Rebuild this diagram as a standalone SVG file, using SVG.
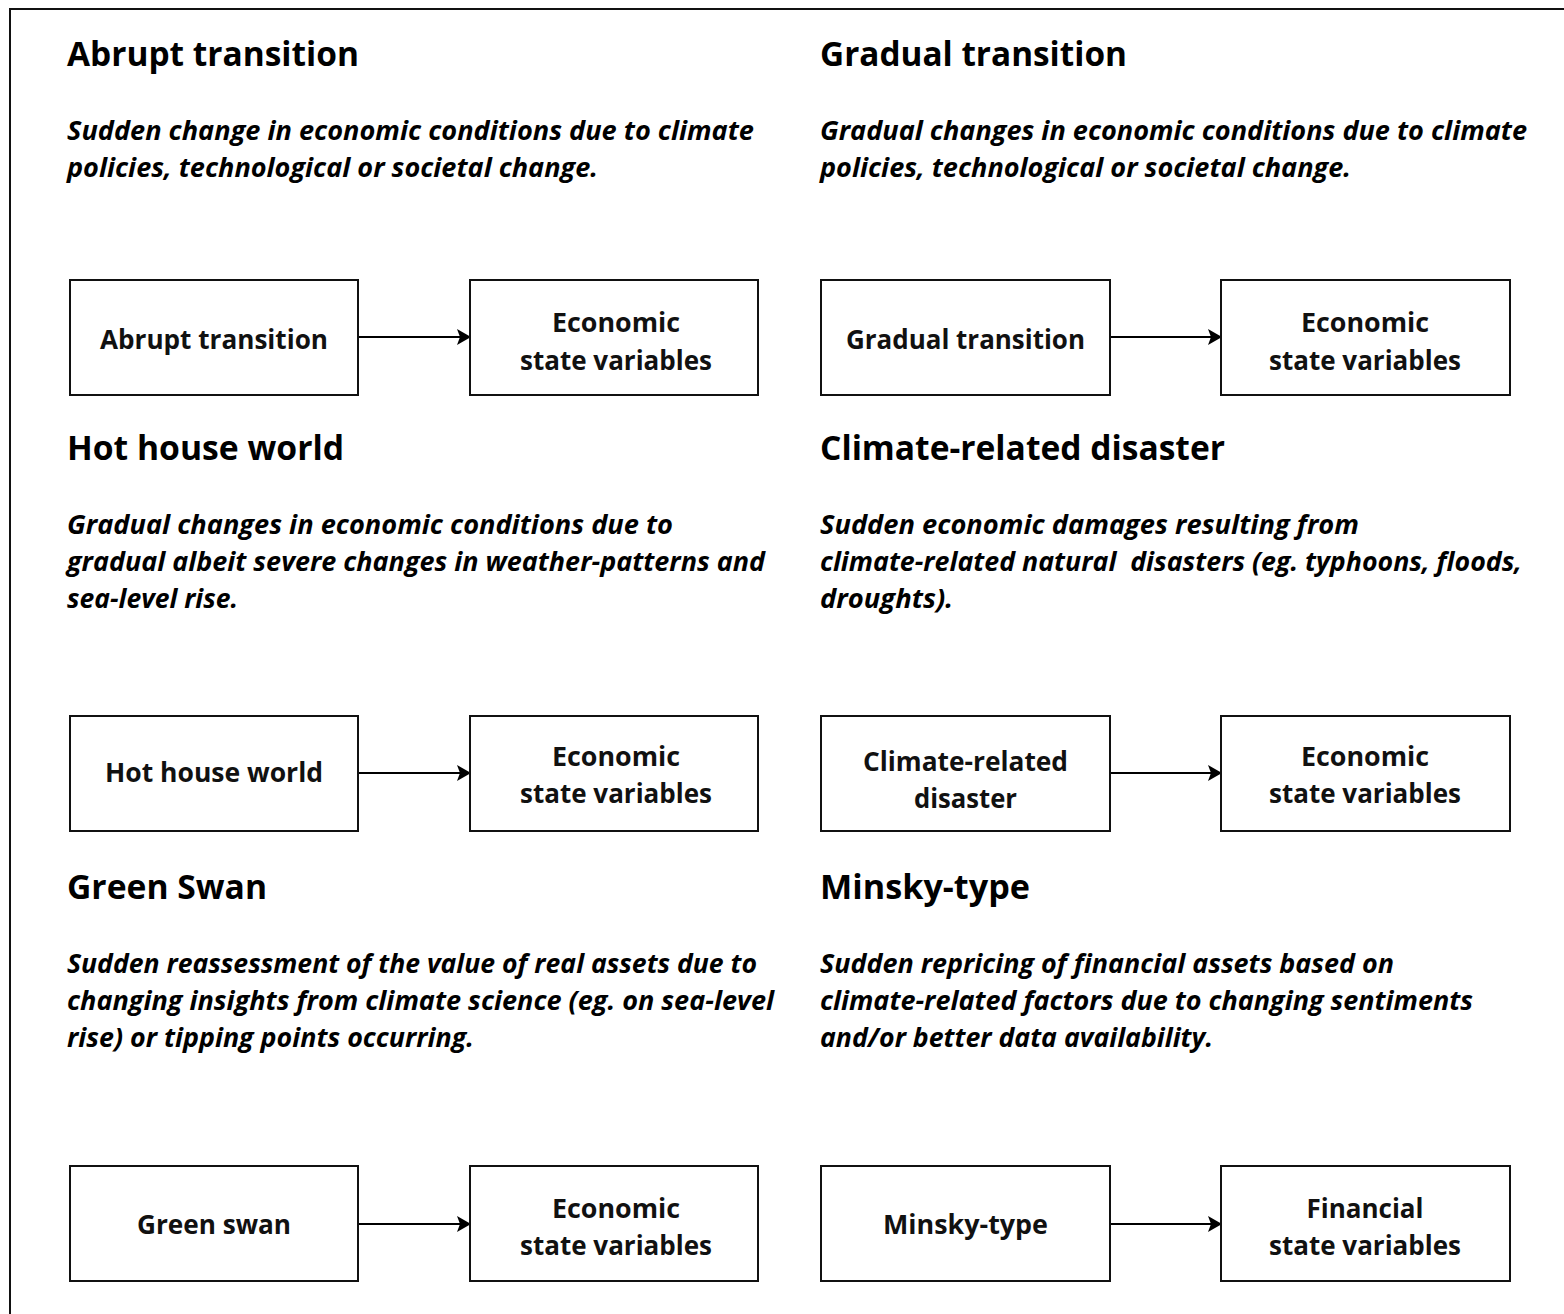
<svg xmlns="http://www.w3.org/2000/svg" width="1564" height="1314" viewBox="0 0 1564 1314">
<style>
.title{font-family:"Open Sans","Noto Sans",sans-serif;font-weight:700;font-size:34px;fill:#000}
.desc{font-family:"Open Sans","Noto Sans",sans-serif;font-weight:700;font-style:italic;font-size:27px;fill:#000}
.lbl{font-family:"Open Sans","Noto Sans",sans-serif;font-weight:700;font-size:26px;fill:#111;text-anchor:middle}
.box{fill:#fff;stroke:#111;stroke-width:2}
.edge{stroke:#000;stroke-width:2;fill:none}
</style>
<defs>
<marker id="arr" viewBox="0 0 14 16" refX="13" refY="8" markerWidth="14" markerHeight="16" markerUnits="userSpaceOnUse" orient="auto">
<path d="M0,0 L14,8 L0,16 L3,8 Z" fill="#000"/>
</marker>
</defs>
<rect width="1564" height="1314" fill="#fff"/>
<rect x="10" y="9" width="1600" height="1400" fill="none" stroke="#111" stroke-width="2"/>

<g id="sec-abrupt">
<text class="title" x="67" y="66" textLength="292" lengthAdjust="spacingAndGlyphs">Abrupt transition</text>
<text class="desc" x="67" y="140" textLength="687" lengthAdjust="spacingAndGlyphs">Sudden change in economic conditions due to climate</text>
<text class="desc" x="67" y="177" textLength="531" lengthAdjust="spacingAndGlyphs">policies, technological or societal change.</text>
</g>
<g id="sec-gradual">
<text class="title" x="820" y="66" textLength="307" lengthAdjust="spacingAndGlyphs">Gradual transition</text>
<text class="desc" x="820" y="140" textLength="707" lengthAdjust="spacingAndGlyphs">Gradual changes in economic conditions due to climate</text>
<text class="desc" x="820" y="177" textLength="531" lengthAdjust="spacingAndGlyphs">policies, technological or societal change.</text>
</g>
<g id="sec-hothouse">
<text class="title" x="67" y="460" textLength="277" lengthAdjust="spacingAndGlyphs">Hot house world</text>
<text class="desc" x="67" y="534" textLength="606" lengthAdjust="spacingAndGlyphs">Gradual changes in economic conditions due to</text>
<text class="desc" x="67" y="571" textLength="698" lengthAdjust="spacingAndGlyphs">gradual albeit severe changes in weather-patterns and</text>
<text class="desc" x="67" y="608" textLength="171" lengthAdjust="spacingAndGlyphs">sea-level rise.</text>
</g>
<g id="sec-disaster">
<text class="title" x="820" y="460" textLength="405" lengthAdjust="spacingAndGlyphs">Climate-related disaster</text>
<text class="desc" x="820" y="534" textLength="539" lengthAdjust="spacingAndGlyphs">Sudden economic damages resulting from</text>
<text class="desc" x="820" y="571" textLength="702" lengthAdjust="spacingAndGlyphs" xml:space="preserve">climate-related natural  disasters (eg. typhoons, floods,</text>
<text class="desc" x="820" y="608" textLength="133" lengthAdjust="spacingAndGlyphs">droughts).</text>
</g>
<g id="sec-greenswan">
<text class="title" x="67" y="899" textLength="200" lengthAdjust="spacingAndGlyphs">Green Swan</text>
<text class="desc" x="67" y="973" textLength="690" lengthAdjust="spacingAndGlyphs">Sudden reassessment of the value of real assets due to</text>
<text class="desc" x="67" y="1010" textLength="707" lengthAdjust="spacingAndGlyphs">changing insights from climate science (eg. on sea-level</text>
<text class="desc" x="67" y="1047" textLength="407" lengthAdjust="spacingAndGlyphs">rise) or tipping points occurring.</text>
</g>
<g id="sec-minsky">
<text class="title" x="820" y="899" textLength="210" lengthAdjust="spacingAndGlyphs">Minsky-type</text>
<text class="desc" x="820" y="973" textLength="574" lengthAdjust="spacingAndGlyphs">Sudden repricing of financial assets based on</text>
<text class="desc" x="820" y="1010" textLength="653" lengthAdjust="spacingAndGlyphs">climate-related factors due to changing sentiments</text>
<text class="desc" x="820" y="1047" textLength="393" lengthAdjust="spacingAndGlyphs">and/or better data availability.</text>
</g>

<g id="connectors">
<line class="edge" x1="358" y1="337" x2="470" y2="337" marker-end="url(#arr)"/>
<line class="edge" x1="1110" y1="337" x2="1221" y2="337" marker-end="url(#arr)"/>
<line class="edge" x1="358" y1="773" x2="470" y2="773" marker-end="url(#arr)"/>
<line class="edge" x1="1110" y1="773" x2="1221" y2="773" marker-end="url(#arr)"/>
<line class="edge" x1="358" y1="1224" x2="470" y2="1224" marker-end="url(#arr)"/>
<line class="edge" x1="1110" y1="1224" x2="1221" y2="1224" marker-end="url(#arr)"/>
</g>

<g id="n-abrupt"><rect class="box" x="70" y="280" width="288" height="115"/><text class="lbl" x="214" y="349" textLength="228" lengthAdjust="spacingAndGlyphs">Abrupt transition</text></g>
<g id="n-econ1"><rect class="box" x="470" y="280" width="288" height="115"/><text class="lbl" x="616" y="332" textLength="128" lengthAdjust="spacingAndGlyphs">Economic</text><text class="lbl" x="616" y="370" textLength="192" lengthAdjust="spacingAndGlyphs">state variables</text></g>
<g id="n-gradual"><rect class="box" x="821" y="280" width="289" height="115"/><text class="lbl" x="965.5" y="349" textLength="239" lengthAdjust="spacingAndGlyphs">Gradual transition</text></g>
<g id="n-econ2"><rect class="box" x="1221" y="280" width="289" height="115"/><text class="lbl" x="1365" y="332" textLength="128" lengthAdjust="spacingAndGlyphs">Economic</text><text class="lbl" x="1365" y="370" textLength="192" lengthAdjust="spacingAndGlyphs">state variables</text></g>

<g id="n-hothouse"><rect class="box" x="70" y="716" width="288" height="115"/><text class="lbl" x="214" y="782" textLength="218" lengthAdjust="spacingAndGlyphs">Hot house world</text></g>
<g id="n-econ3"><rect class="box" x="470" y="716" width="288" height="115"/><text class="lbl" x="616" y="766" textLength="128" lengthAdjust="spacingAndGlyphs">Economic</text><text class="lbl" x="616" y="803" textLength="192" lengthAdjust="spacingAndGlyphs">state variables</text></g>
<g id="n-disaster"><rect class="box" x="821" y="716" width="289" height="115"/><text class="lbl" x="965.5" y="771" textLength="205" lengthAdjust="spacingAndGlyphs">Climate-related</text><text class="lbl" x="965.5" y="808" textLength="103" lengthAdjust="spacingAndGlyphs">disaster</text></g>
<g id="n-econ4"><rect class="box" x="1221" y="716" width="289" height="115"/><text class="lbl" x="1365" y="766" textLength="128" lengthAdjust="spacingAndGlyphs">Economic</text><text class="lbl" x="1365" y="803" textLength="192" lengthAdjust="spacingAndGlyphs">state variables</text></g>

<g id="n-greenswan"><rect class="box" x="70" y="1166" width="288" height="115"/><text class="lbl" x="214" y="1234" textLength="154" lengthAdjust="spacingAndGlyphs">Green swan</text></g>
<g id="n-econ5"><rect class="box" x="470" y="1166" width="288" height="115"/><text class="lbl" x="616" y="1218" textLength="128" lengthAdjust="spacingAndGlyphs">Economic</text><text class="lbl" x="616" y="1255" textLength="192" lengthAdjust="spacingAndGlyphs">state variables</text></g>
<g id="n-minsky"><rect class="box" x="821" y="1166" width="289" height="115"/><text class="lbl" x="965.5" y="1234" textLength="165" lengthAdjust="spacingAndGlyphs">Minsky-type</text></g>
<g id="n-fin"><rect class="box" x="1221" y="1166" width="289" height="115"/><text class="lbl" x="1365" y="1218" textLength="117" lengthAdjust="spacingAndGlyphs">Financial</text><text class="lbl" x="1365" y="1255" textLength="192" lengthAdjust="spacingAndGlyphs">state variables</text></g>
</svg>
